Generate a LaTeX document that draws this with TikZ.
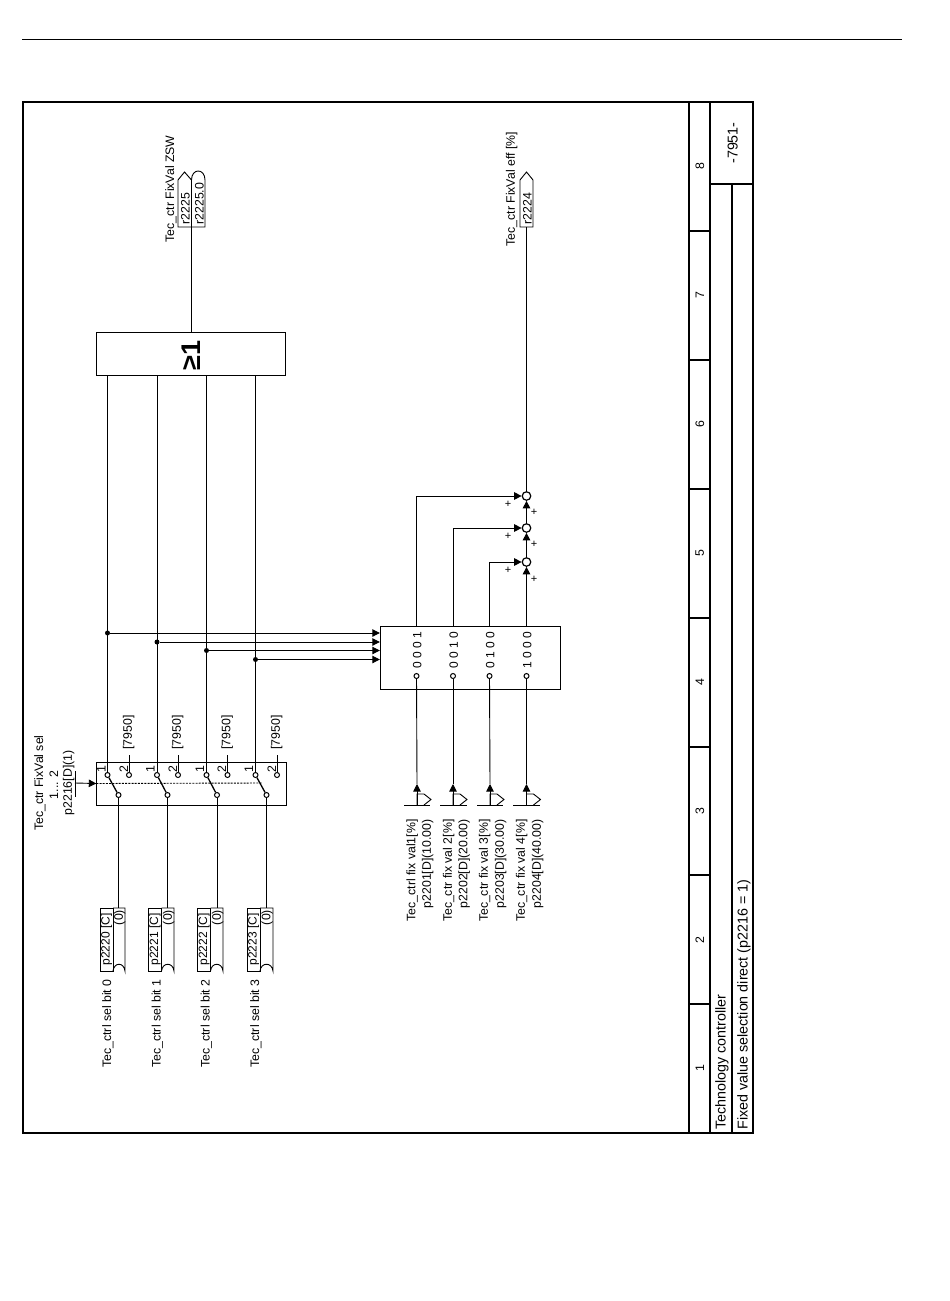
\documentclass[tikz,border=0pt]{standalone}
\usepackage{fontspec}
\setmainfont{Liberation Sans}
\usetikzlibrary{arrows.meta}

\tikzset{
    txt/.style={xshift=0.8pt, rotate=90, inner sep=0pt, font=\fontsize{12.3}{14}\selectfont},
    txtw/.style={txt, anchor=west},
    txte/.style={txt, anchor=east},
    titletxt/.style={txtw, font=\fontsize{14.3}{16}\selectfont},
    bitstxt/.style={txt, font=\fontsize{12}{14}\selectfont},
    plustxt/.style={inner sep=0pt, font=\fontsize{11}{11}\selectfont},
    dot/.style={circle, fill=black, inner sep=0pt, minimum size=5pt},
    contact/.style={circle, draw, fill=white, line width=1pt, inner sep=0pt, minimum size=5pt},
    sumnode/.style={circle, draw, fill=white, line width=1.2pt, inner sep=0pt, minimum size=8.5pt},
    sigarrow/.style={-{Triangle[length=7.5pt,width=7.5pt]}},
    blockbox/.style={draw, inner sep=0pt},
    selbox/.style={blockbox, rotate=90, minimum width=63pt, minimum height=13pt, font=\fontsize{12}{14}\selectfont}
}

\begin{document}
\begin{tikzpicture}[x=1pt, y=-1pt, line width=0.9pt]
    \useasboundingbox (0,0) rectangle (950,1301);

    % page rule
    \coordinate (ruleL) at (22,39);
    \coordinate (ruleR) at (902,39);
    \draw[line width=0.7pt] (ruleL) -- (ruleR);

    % frame
    \draw[line width=1.7pt] (23,102) rectangle (753,1133);
    \draw[line width=1.7pt] (689,102) -- (689,1133);
    \draw[line width=1.7pt] (710,102) -- (710,1133);
    \draw[line width=1.7pt] (710,184) -- (753,184);
    \draw[line width=1.3pt] (732,184) -- (732,1133);
    \draw[line width=1.3pt] (689,231) -- (710,231);
    \draw[line width=1.3pt] (689,360) -- (710,360);
    \draw[line width=1.3pt] (689,489) -- (710,489);
    \draw[line width=1.3pt] (689,618) -- (710,618);
    \draw[line width=1.3pt] (689,747) -- (710,747);
    \draw[line width=1.3pt] (689,875) -- (710,875);
    \draw[line width=1.3pt] (689,1004) -- (710,1004);

    % column numbers
    \node[txt] (col8) at (699,166) {8};
    \node[txt] (col7) at (699,295) {7};
    \node[txt] (col6) at (699,424) {6};
    \node[txt] (col5) at (699,553) {5};
    \node[txt] (col4) at (699,682) {4};
    \node[txt] (col3) at (699,811) {3};
    \node[txt] (col2) at (699,940) {2};
    \node[txt] (col1) at (699,1068) {1};

    % title block
    \node[txt, font=\fontsize{14.3}{16}\selectfont] (sheetNo) at (732,143) {-7951-};
    \node[titletxt] (titleA) at (721,1130) {Technology controller};
    \node[titletxt] (titleB) at (743,1130) {Fixed value selection direct (p2216 = 1)};

    % OR block
    \node[blockbox, minimum width=189pt, minimum height=43pt] (orbox) at (190.5,353.5) {};
    \node[txt, font=\fontsize{27}{29}\bfseries\selectfont] (orsign) at (190,355.5) {≥1};

    % status tags
    \draw (178,227) -- (178,180) -- (184.5,172) -- (191.5,180) -- (191.5,227) -- cycle;
    \draw (191.5,227) -- (191.5,180) .. controls (191.5,168) and (205,168) .. (205,180) -- (205,227) -- cycle;
    \coordinate (zswIn) at (191.5,227);
    \node[txtw] (tagZsw) at (184.5,225) {r2225};
    \node[txtw] (tagZswBit) at (198.5,225) {r2225.0};
    \node[txtw] (labZsw) at (170,243) {Tec\_ctr FixVal ZSW};
    \draw (orbox.north -| zswIn) -- (zswIn);

    \draw (520,227) -- (520,180) -- (526.5,172) -- (533,180) -- (533,227) -- cycle;
    \coordinate (effIn) at (526.5,227);
    \node[txtw] (tagEff) at (526.5,225) {r2224};
    \node[txtw] (labEff) at (511,247) {Tec\_ctr FixVal eff [\%]};

    % switch
    \node[blockbox, minimum width=189.5pt, minimum height=43pt] (swbox) at (191.5,783.5) {};
    \coordinate (swEnd) at (262,783);
    \draw[line width=0.9pt, dash pattern=on 2pt off 1.2pt] (swbox.west) -- (swEnd);
    \coordinate (ctlBar) at (75,783);
    \coordinate (ctlTop) at (75,771);
    \coordinate (ctlBot) at (75,797);
    \draw (ctlTop) -- (ctlBot);
    \draw[sigarrow] (ctlBar) -- (swbox.west);
    \node[txt] (ctlA) at (39,783) {Tec\_ctr FixVal sel};
    \node[txt] (ctlB) at (53,785) {1... 2};
    \node[txt] (ctlC) at (68,783) {p2216[D](1)};

    % switch contacts
    \node[contact] (swA1) at (107.5,775) {};
    \node[contact] (swA2) at (129,775) {};
    \node[contact] (swA0) at (118.5,795) {};
    \node[contact] (swB1) at (157,775) {};
    \node[contact] (swB2) at (178,775) {};
    \node[contact] (swB0) at (167.5,795) {};
    \node[contact] (swC1) at (206.5,775) {};
    \node[contact] (swC2) at (227.5,775) {};
    \node[contact] (swC0) at (217,795) {};
    \node[contact] (swD1) at (255.5,775) {};
    \node[contact] (swD2) at (277,775) {};
    \node[contact] (swD0) at (266.5,795) {};
    \draw[line width=1.3pt] (swA1) -- (swA0);
    \draw[line width=1.3pt] (swB1) -- (swB0);
    \draw[line width=1.3pt] (swC1) -- (swC0);
    \draw[line width=1.3pt] (swD1) -- (swD0);
    \node[txt] (swA1t) at (100.5,769) {1};
    \node[txt] (swA2t) at (123,769) {2};
    \node[txt] (swB1t) at (149.5,769) {1};
    \node[txt] (swB2t) at (172,769) {2};
    \node[txt] (swC1t) at (199,769) {1};
    \node[txt] (swC2t) at (221,769) {2};
    \node[txt] (swD1t) at (248,769) {1};
    \node[txt] (swD2t) at (271,769) {2};

    % references to sheet 7950
    \coordinate (refA) at (129,755);
    \coordinate (refB) at (178,755);
    \coordinate (refC) at (227.5,755);
    \coordinate (refD) at (277,755);
    \draw (swA2) -- (refA);
    \draw (swB2) -- (refB);
    \draw (swC2) -- (refC);
    \draw (swD2) -- (refD);
    \node[txtw] (refAt) at (128,750) {[7950]};
    \node[txtw] (refBt) at (177,750) {[7950]};
    \node[txtw] (refCt) at (226.5,750) {[7950]};
    \node[txtw] (refDt) at (276,750) {[7950]};

    % decoder block
    \node[blockbox, minimum width=180.5pt, minimum height=63pt] (decbox) at (470.5,657.5) {};
    \node[contact] (decA) at (416.5,676) {};
    \node[contact] (decB) at (453,676) {};
    \node[contact] (decC) at (489.5,676) {};
    \node[contact] (decD) at (526.5,676) {};
    \node[bitstxt] (bitsA) at (416.5,650) {0 0 0 1};
    \node[bitstxt] (bitsB) at (453,650) {0 0 1 0};
    \node[bitstxt] (bitsC) at (489.5,650) {0 1 0 0};
    \node[bitstxt] (bitsD) at (526.5,650) {1 0 0 0};

    % branch points and select lines
    \node[dot] (dotA) at (107.5,633) {};
    \node[dot] (dotB) at (157,642) {};
    \node[dot] (dotC) at (206.5,650.5) {};
    \node[dot] (dotD) at (255.5,659.5) {};
    \draw (orbox.south -| swA1) -- (swA1);
    \draw (orbox.south -| swB1) -- (swB1);
    \draw (orbox.south -| swC1) -- (swC1);
    \draw (orbox.south -| swD1) -- (swD1);
    \draw[sigarrow] (dotA) -- (decbox.west |- dotA);
    \draw[sigarrow] (dotB) -- (decbox.west |- dotB);
    \draw[sigarrow] (dotC) -- (decbox.west |- dotC);
    \draw[sigarrow] (dotD) -- (decbox.west |- dotD);

    % adders
    \node[sumnode] (sumA) at (526.5,496) {};
    \node[sumnode] (sumB) at (526.5,528) {};
    \node[sumnode] (sumC) at (526.5,562) {};
    \draw[sigarrow] (decA |- decbox.north) |- (sumA);
    \draw[sigarrow] (decB |- decbox.north) |- (sumB);
    \draw[sigarrow] (decC |- decbox.north) |- (sumC);
    \draw[sigarrow] (decD |- decbox.north) -- (sumC);
    \draw[sigarrow] (sumC) -- (sumB);
    \draw[sigarrow] (sumB) -- (sumA);
    \draw (sumA) -- (effIn);
    \node[plustxt] (plusA1) at (508,504) {+};
    \node[plustxt] (plusA2) at (534,512.5) {+};
    \node[plustxt] (plusB1) at (508,536.5) {+};
    \node[plustxt] (plusB2) at (534,544) {+};
    \node[plustxt] (plusC1) at (508,570.5) {+};
    \node[plustxt] (plusC2) at (534,579.5) {+};

    % fixed value inputs
    \coordinate (fixA) at (417,805);
    \coordinate (fixB) at (453,805);
    \coordinate (fixC) at (490,805);
    \coordinate (fixD) at (526.5,805);
    \coordinate (tipA) at (417,784);
    \coordinate (tipB) at (453,784);
    \coordinate (tipC) at (490,784);
    \coordinate (tipD) at (526.5,784);
    \draw (404,805) -- (430,805);
    \draw (440,805) -- (467,805);
    \draw (477,805) -- (503,805);
    \draw (513,805) -- (540,805);
    \draw (417,805) -- (417,794) -- (424,794) -- (431,799.5) -- (424,805);
    \draw (453,805) -- (453,794) -- (460,794) -- (467,799.5) -- (460,805);
    \draw (490,805) -- (490,794) -- (497,794) -- (504,799.5) -- (497,805);
    \draw (526.5,805) -- (526.5,794) -- (533.5,794) -- (540.5,799.5) -- (533.5,805);
    \draw[sigarrow] (fixA) -- (tipA);
    \draw[sigarrow] (fixB) -- (tipB);
    \draw[sigarrow] (fixC) -- (tipC);
    \draw[sigarrow] (fixD) -- (tipD);
    \draw (tipA) -- (decA);
    \draw (tipB) -- (decB);
    \draw (tipC) -- (decC);
    \draw (tipD) -- (decD);
    \node[txte] (fixAa) at (411.5,819) {Tec\_ctrl fix val1[\%]};
    \node[txte] (fixAb) at (427,819) {p2201[D](10.00)};
    \node[txte] (fixBa) at (448,819) {Tec\_ctr fix val 2[\%]};
    \node[txte] (fixBb) at (463.5,819) {p2202[D](20.00)};
    \node[txte] (fixCa) at (484,819) {Tec\_ctr fix val 3[\%]};
    \node[txte] (fixCb) at (500,819) {p2203[D](30.00)};
    \node[txte] (fixDa) at (521,819) {Tec\_ctr fix val 4[\%]};
    \node[txte] (fixDb) at (537,819) {p2204[D](40.00)};

    % selection inputs
    \node[selbox] (selA) at (106.5,939.5) {p2220 [C]};
    \node[selbox] (selB) at (155,939.5) {p2221 [C]};
    \node[selbox] (selC) at (204,939.5) {p2222 [C]};
    \node[selbox] (selD) at (253.5,939.5) {p2223 [C]};
    \draw (113,908) -- (125,908) -- (125,971) .. controls (124,962) and (114,962) .. (113,971);
    \draw (161.5,908) -- (174,908) -- (174,971) .. controls (173,962) and (162.5,962) .. (161.5,971);
    \draw (210.5,908) -- (223,908) -- (223,971) .. controls (222,962) and (211.5,962) .. (210.5,971);
    \draw (260,908) -- (273,908) -- (273,971) .. controls (272,962) and (261,962) .. (260,971);
    \node[txtw] (selA0t) at (119,925.5) {(0)};
    \node[txtw] (selB0t) at (168,925.5) {(0)};
    \node[txtw] (selC0t) at (217,925.5) {(0)};
    \node[txtw] (selD0t) at (266.5,925.5) {(0)};
    \coordinate (selAout) at (118.5,908);
    \coordinate (selBout) at (167.5,908);
    \coordinate (selCout) at (217,908);
    \coordinate (selDout) at (266.5,908);
    \draw (swA0) -- (selAout);
    \draw (swB0) -- (selBout);
    \draw (swC0) -- (selCout);
    \draw (swD0) -- (selDout);
    \node[txtw] (selAt) at (107,1068) {Tec\_ctrl sel bit 0};
    \node[txtw] (selBt) at (156.5,1068) {Tec\_ctrl sel bit 1};
    \node[txtw] (selCt) at (205.5,1068) {Tec\_ctrl sel bit 2};
    \node[txtw] (selDt) at (255,1068) {Tec\_ctrl sel bit 3};
\end{tikzpicture}
\end{document}
